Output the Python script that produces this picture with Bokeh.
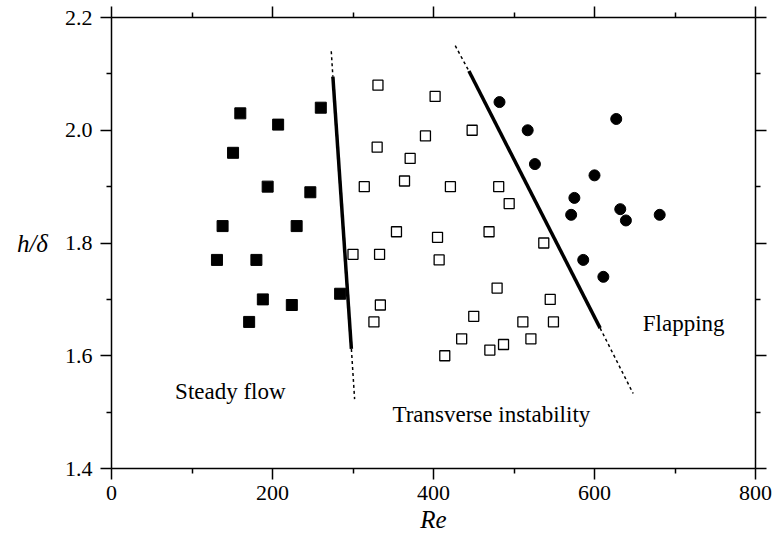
from bokeh.plotting import figure
from bokeh.models import Range1d, LinearAxis, FixedTicker, Label
from bokeh.embed import file_html
from bokeh.resources import INLINE

# ---- data ----
steady_re = [160, 207, 260, 151, 194, 247, 138, 230, 131, 180, 188, 224, 171, 284]
steady_h = [2.03, 2.01, 2.04, 1.96, 1.90, 1.89, 1.83, 1.83, 1.77, 1.77, 1.70, 1.69, 1.66, 1.71]

trans_re = [331, 402, 330, 390, 371, 314, 364, 354, 405, 300, 333, 407, 334, 326, 448,
            421, 481, 494, 469, 537, 479, 545, 450, 511, 549, 435, 521, 487, 470, 414]
trans_h = [2.08, 2.06, 1.97, 1.99, 1.95, 1.90, 1.91, 1.82, 1.81, 1.78, 1.78, 1.77, 1.69, 1.66, 2.00,
           1.90, 1.90, 1.87, 1.82, 1.80, 1.72, 1.70, 1.67, 1.66, 1.66, 1.63, 1.63, 1.62, 1.61, 1.60]

flap_re = [482, 517, 526, 627, 600, 575, 571, 632, 639, 681, 586, 611]
flap_h = [2.05, 2.00, 1.94, 2.02, 1.92, 1.88, 1.85, 1.86, 1.84, 1.85, 1.77, 1.74]

# boundary 1 (steady / transverse)
b1_re = [275, 298]
b1_h = [2.095, 1.612]
b1_top_re = [273, 275]
b1_top_h = [2.14, 2.095]
b1_bot_re = [298, 302]
b1_bot_h = [1.612, 1.523]

# boundary 2 (transverse / flapping)
b2_re = [444, 607]
b2_h = [2.105, 1.649]
b2_top_re = [427, 444]
b2_top_h = [2.15, 2.105]
b2_bot_re = [607, 648]
b2_bot_h = [1.649, 1.533]

x_ticks = [0, 200, 400, 600, 800]
x_tick_labels = ["0", "200", "400", "600", "800"]
x_minor = [100, 300, 500, 700]
y_ticks = [1.4, 1.6, 1.8, 2.0, 2.2]
y_tick_labels = ["1.4", "1.6", "1.8", "2.0", "2.2"]
y_minor = [1.5, 1.7, 1.9, 2.1]

region_labels = ["Steady flow", "Transverse instability", "Flapping"]
region_re = [79, 349, 660]
region_h = [1.536, 1.496, 1.657]

x_title = "Re"
y_title = "h/δ"

FONT = "Liberation Serif"

p = figure(width=775, height=541, output_backend="svg", toolbar_location=None,
           x_range=Range1d(0, 800), y_range=Range1d(1.4, 2.2),
           x_axis_location=None, y_axis_location=None,
           min_border_left=111, min_border_right=20, min_border_top=17, min_border_bottom=73)
p.xgrid.visible = False
p.ygrid.visible = False
p.outline_line_color = None
p.background_fill_color = "white"
p.border_fill_color = "white"


def style_axis(ax, ticks, minor, labels, show_labels):
    ax.ticker = FixedTicker(ticks=ticks, minor_ticks=minor)
    ax.axis_line_width = 1.5
    ax.axis_line_color = "black"
    ax.major_tick_line_width = 1.5
    ax.minor_tick_line_width = 1.5
    ax.major_tick_line_color = "black"
    ax.minor_tick_line_color = "black"
    ax.major_tick_in = 0
    ax.minor_tick_in = 0
    ax.major_tick_out = 11
    ax.minor_tick_out = 5
    if show_labels:
        ax.major_label_overrides = {t: l for t, l in zip(ticks, labels)}
        ax.major_label_text_font = FONT
        ax.major_label_text_font_size = "22px"
        ax.major_label_text_color = "black"
        ax.major_label_standoff = 6
    else:
        ax.major_label_overrides = {t: "" for t in ticks}
        ax.major_label_text_font_size = "0px"
        ax.major_label_standoff = 0


xb = LinearAxis()
style_axis(xb, x_ticks, x_minor, x_tick_labels, True)
xb.axis_label = x_title
xb.axis_label_text_font = FONT
xb.axis_label_text_font_style = "italic"
xb.axis_label_text_font_size = "25px"
xb.axis_label_text_color = "black"
xb.axis_label_standoff = 3
p.add_layout(xb, "below")

xt = LinearAxis()
style_axis(xt, x_ticks, x_minor, x_tick_labels, False)
p.add_layout(xt, "above")

yl = LinearAxis()
style_axis(yl, y_ticks, y_minor, y_tick_labels, True)
yl.major_label_standoff = 8
yl.axis_label = y_title
yl.axis_label_text_font = FONT
yl.axis_label_text_font_style = "italic"
yl.axis_label_text_font_size = "25px"
yl.axis_label_text_color = "black"
yl.axis_label_standoff = 14
try:
    yl.axis_label_orientation = "horizontal"
except Exception:
    pass
p.add_layout(yl, "left")

yr = LinearAxis()
style_axis(yr, y_ticks, y_minor, y_tick_labels, False)
p.add_layout(yr, "right")

# boundaries
p.line(b1_re, b1_h, line_color="black", line_width=3.5)
p.line(b1_top_re, b1_top_h, line_color="black", line_width=1.5, line_dash="3 3")
p.line(b1_bot_re, b1_bot_h, line_color="black", line_width=1.5, line_dash="3 3")
p.line(b2_re, b2_h, line_color="black", line_width=3.5)
p.line(b2_top_re, b2_top_h, line_color="black", line_width=1.5, line_dash="3 3")
p.line(b2_bot_re, b2_bot_h, line_color="black", line_width=1.5, line_dash="3 3")

# points
p.scatter(steady_re, steady_h, marker="square", size=11, fill_color="black", line_color="black")
p.scatter(trans_re, trans_h, marker="square", size=10, fill_color="white", line_color="black", line_width=1.3)
p.scatter(flap_re, flap_h, marker="circle", size=11, fill_color="black", line_color="black")

for t, xr, yh in zip(region_labels, region_re, region_h):
    p.add_layout(Label(x=xr, y=yh, text=t, text_font=FONT, text_font_size="23px",
                       text_color="black", text_align="left", text_baseline="alphabetic"))

open("out.html", "w").write(file_html(p, INLINE))
